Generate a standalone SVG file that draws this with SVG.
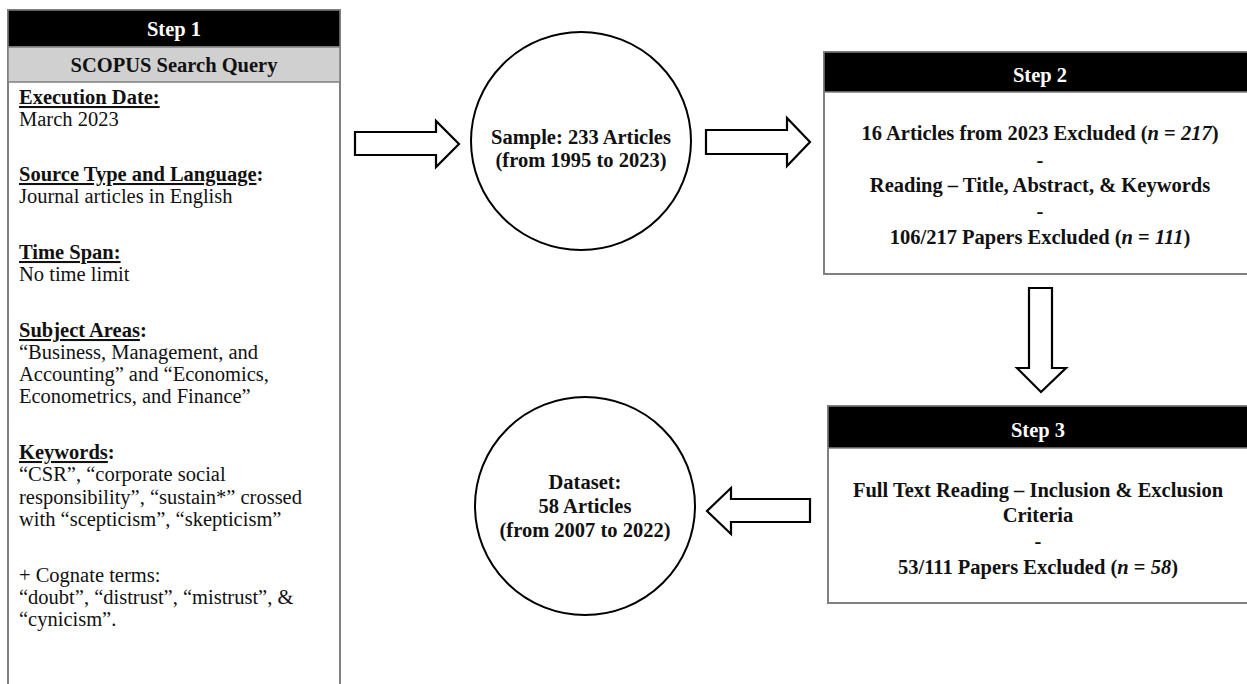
<svg xmlns="http://www.w3.org/2000/svg" width="1247" height="684" viewBox="0 0 1247 684">
<style>
text{font-family:"Liberation Serif","Times New Roman",serif;font-size:20.5px;fill:#111}
.b{font-weight:bold}
.c{text-anchor:middle}
.h{fill:#fff;font-weight:bold;text-anchor:middle}
.u{text-decoration:underline}
.box{fill:#fff;stroke:#808080;stroke-width:2}
.hdr{fill:#000;stroke:#808080;stroke-width:1.5}
.circ{fill:#fff;stroke:#000;stroke-width:2}
.arr{fill:#fff;stroke:#000;stroke-width:2.2;stroke-linejoin:miter}
</style>
<rect width="1247" height="684" fill="#fff"/>
<g id="step1">
<rect class="box" x="8" y="10" width="332" height="690"/>
<rect class="hdr" x="8" y="10" width="332" height="37"/>
<rect x="8" y="47" width="332" height="35" fill="#d0d0d0" stroke="#808080" stroke-width="1.5"/>
<text class="h" x="174" y="36">Step 1</text>
<text class="b c" x="174" y="72">SCOPUS Search Query</text>
<text x="19" y="104" class="b"><tspan class="u">Execution Date:</tspan></text>
<text x="19" y="126">March 2023</text>
<text x="19" y="181" class="b"><tspan class="u">Source Type and Language</tspan>:</text>
<text x="19" y="203">Journal articles in English</text>
<text x="19" y="259" class="b"><tspan class="u">Time Span:</tspan></text>
<text x="19" y="281">No time limit</text>
<text x="19" y="337" class="b"><tspan class="u">Subject Areas</tspan>:</text>
<text x="19" y="359">“Business, Management, and</text>
<text x="19" y="381">Accounting” and “Economics,</text>
<text x="19" y="403">Econometrics, and Finance”</text>
<text x="19" y="459" class="b"><tspan class="u">Keywords</tspan>:</text>
<text x="19" y="481">“CSR”, “corporate social</text>
<text x="19" y="504">responsibility”, “sustain*” crossed</text>
<text x="19" y="526">with “scepticism”, “skepticism”</text>
<text x="19" y="582">+ Cognate terms:</text>
<text x="19" y="604">“doubt”, “distrust”, “mistrust”, &amp;</text>
<text x="19" y="626">“cynicism”.</text>
</g>
<g id="sample">
<ellipse class="circ" cx="581" cy="141" rx="110" ry="109"/>
<text class="b c" x="581" y="144">Sample: 233 Articles</text>
<text class="b c" x="581" y="167">(from 1995 to 2023)</text>
</g>
<g id="step2">
<rect class="box" x="824" y="52" width="440" height="222"/>
<rect class="hdr" x="824" y="52" width="440" height="40"/>
<text class="h" x="1040" y="82">Step 2</text>
<text class="b c" x="1040" y="140">16 Articles from 2023 Excluded (<tspan font-style="italic">n</tspan> = <tspan font-style="italic">217</tspan>)</text>
<text class="b c" x="1040" y="167">-</text>
<text class="b c" x="1040" y="192">Reading – Title, Abstract, &amp; Keywords</text>
<text class="b c" x="1040" y="218">-</text>
<text class="b c" x="1040" y="244">106/217 Papers Excluded (<tspan font-style="italic">n</tspan> = <tspan font-style="italic">111</tspan>)</text>
</g>
<g id="step3">
<rect class="box" x="828" y="406" width="440" height="197"/>
<rect class="hdr" x="828" y="406" width="440" height="42"/>
<text class="h" x="1038" y="437">Step 3</text>
<text class="b c" x="1038" y="497">Full Text Reading – Inclusion &amp; Exclusion</text>
<text class="b c" x="1038" y="522">Criteria</text>
<text class="b c" x="1038" y="548">-</text>
<text class="b c" x="1038" y="574">53/111 Papers Excluded (<tspan font-style="italic">n</tspan> = <tspan font-style="italic">58</tspan>)</text>
</g>
<g id="dataset">
<ellipse class="circ" cx="585" cy="506" rx="110" ry="109"/>
<text class="b c" x="585" y="489">Dataset:</text>
<text class="b c" x="585" y="513">58 Articles</text>
<text class="b c" x="585" y="537">(from 2007 to 2022)</text>
</g>
<g id="connectors">
<polygon class="arr" points="355,132 436,132 436,121 459,144 436,167 436,155 355,155"/>
<polygon class="arr" points="706,130 787,130 787,118 810,142 787,166 787,154 706,154"/>
<polygon class="arr" points="1029,288 1052,288 1052,368 1066,368 1041,392 1017,368 1029,368"/>
<polygon class="arr" points="810,499 731,499 731,488 707,511 731,534 731,522 810,522"/>
</g>
</svg>
